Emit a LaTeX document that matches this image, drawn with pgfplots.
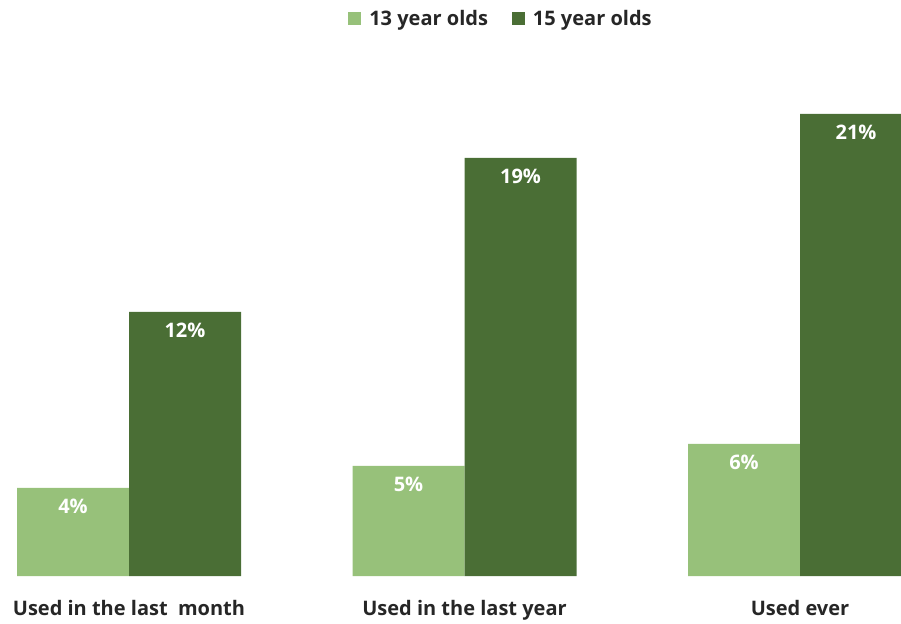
\documentclass[border=0pt]{standalone}
\usepackage{pgfplots}
\pgfplotsset{compat=1.18}
\usepackage{fontspec}
\setmainfont{Open Sans}
\definecolor{lightg}{HTML}{97C17A}
\definecolor{darkg}{HTML}{4A6E35}
\definecolor{txt}{HTML}{262626}
\begin{document}
\begin{tikzpicture}
\begin{axis}[
  name=ax,
  scale only axis,
  width=901pt, height=516pt,
  xmin=-0.3845, xmax=2.301,
  ymin=0, ymax=23.45,
  ybar=0pt, bar width=112pt,
  /pgf/number format/assume math mode=true,
  axis line style={draw=none},
  ytick=\empty,
  xtick=data,
  xticklabels={Used in the last~~month, Used in the last year, Used ever},
  major tick length=0pt,
  xticklabel style={font=\fontsize{20}{24}\selectfont\bfseries, text=txt, yshift=-21pt},
  nodes near coords={\pgfmathprintnumber{\pgfplotspointmeta}\%},
  every node near coord/.append style={anchor=north, yshift=-8pt, text=white, font=\fontsize{20}{24}\selectfont\bfseries},
  legend style={draw=none, at={(0.556,1.081)}, anchor=center, legend columns=2,
    font=\fontsize{20}{24}\selectfont\bfseries, text=txt,
    /tikz/every odd column/.append style={column sep=6pt},
    /tikz/every even column/.append style={column sep=22pt}},
  legend image code/.code={\fill[#1] (0pt,-6.5pt) rectangle (13pt,6.5pt);},
]
\addplot[fill=lightg, draw=none] coordinates {(0,4) (1,5) (2,6)};
\addplot[fill=darkg, draw=none] coordinates {(0,12) (1,19) (2,21)};
\legend{13 year olds, 15 year olds}
\end{axis}
\pgfresetboundingbox
\path ([yshift=-47pt]ax.south west) rectangle ([yshift=60pt]ax.north east);
\end{tikzpicture}
\end{document}
